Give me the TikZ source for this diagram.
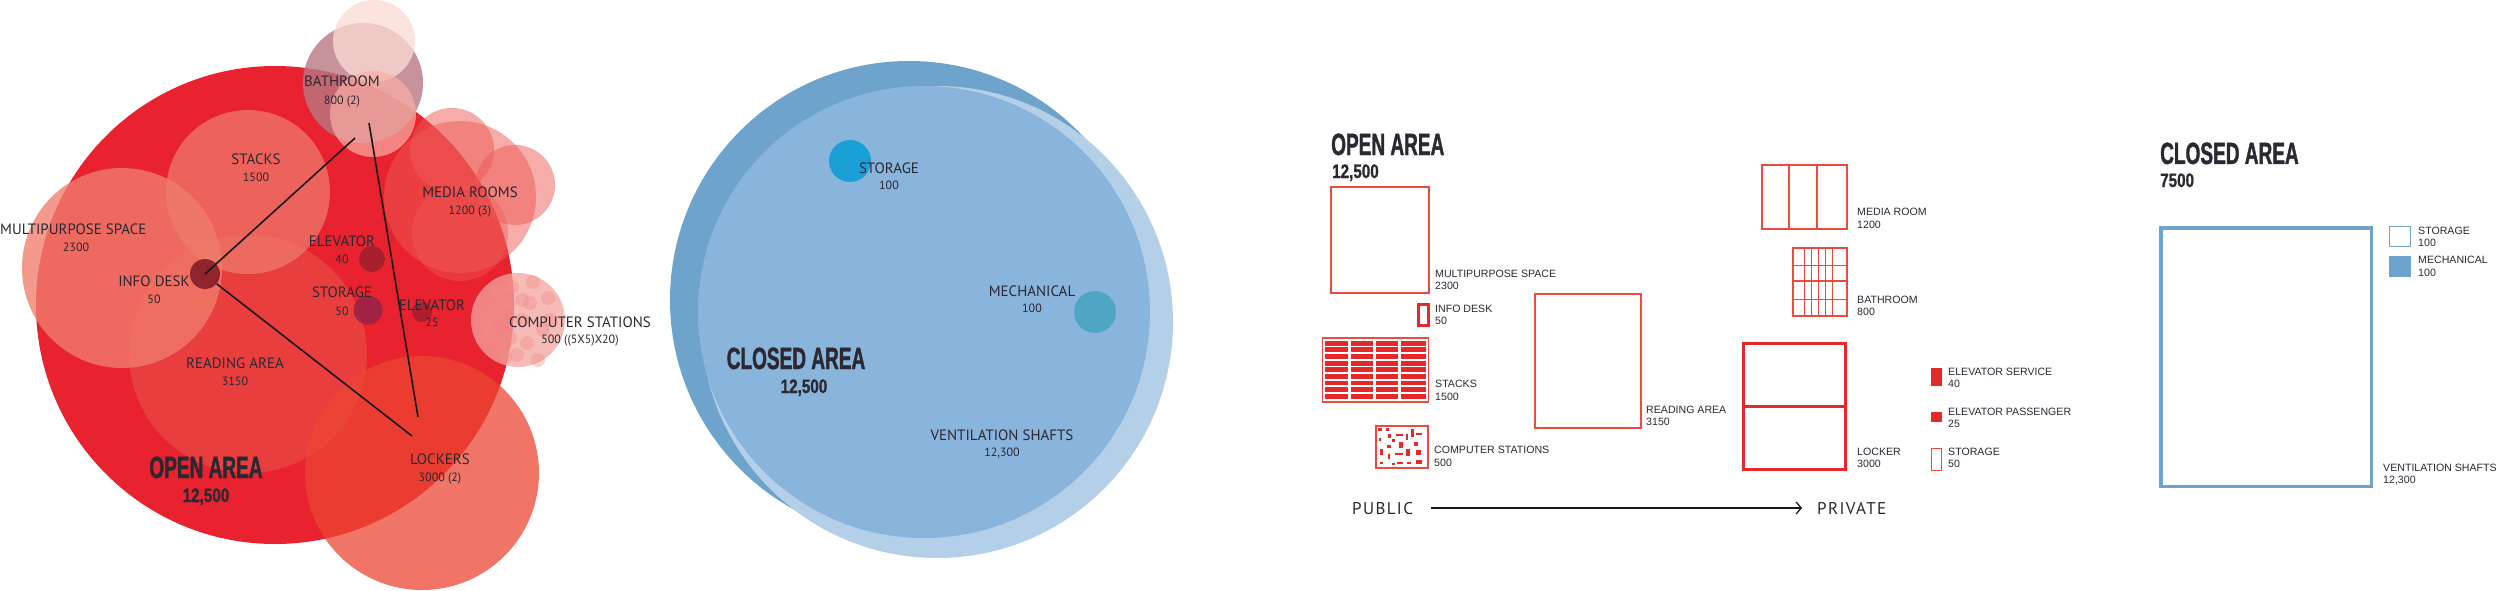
\documentclass[tikz,border=0pt]{standalone}
\usepackage{fontspec}
\setmainfont{Liberation Sans}
\newfontfamily\dinf{PT Sans}
\newfontfamily\arialf{Liberation Sans}
\newfontfamily\bebasf[FakeStretch=0.62,FakeBold=1.2]{Liberation Sans}
\newfontfamily\bebasnumf[FakeStretch=0.78,FakeBold=0.8]{Liberation Sans}
\newfontfamily\spacedf[LetterSpace=8]{PT Sans}
\usetikzlibrary{arrows.meta}
\definecolor{txt}{RGB}{43,40,50}
\definecolor{mainred}{RGB}{232,34,46}
\definecolor{salmon}{RGB}{240,126,109}
\definecolor{lockred}{RGB}{236,70,50}
\definecolor{readred}{RGB}{233,62,62}
\definecolor{mediared}{RGB}{238,90,85}
\definecolor{mauve}{RGB}{185,120,130}
\definecolor{pale}{RGB}{252,220,212}
\definecolor{lpink}{RGB}{248,175,165}
\definecolor{comppink}{RGB}{245,165,160}
\definecolor{dotpink}{RGB}{240,140,135}
\definecolor{deskdark}{RGB}{135,30,40}
\definecolor{elevdark}{RGB}{160,30,45}
\definecolor{stordark}{RGB}{155,35,70}
\definecolor{bluedark}{RGB}{110,163,203}
\definecolor{bluemid}{RGB}{137,180,219}
\definecolor{bluelight}{RGB}{180,207,232}
\definecolor{bluestor}{RGB}{26,160,214}
\definecolor{bluemech}{RGB}{78,166,196}
\definecolor{outred}{RGB}{236,75,60}
\definecolor{fillred}{RGB}{229,40,42}
\definecolor{boxblue}{RGB}{111,163,207}
\tikzset{
  lblL/.style={font=\dinf\fontsize{15}{15}\selectfont, text=txt, inner sep=0pt, text height=10.5pt, text depth=0pt},
  numL/.style={font=\dinf\fontsize{12}{12}\selectfont, text=txt, inner sep=0pt, text height=8.4pt, text depth=0pt},
  lblR/.style={font=\arialf\fontsize{10.6}{10.6}\selectfont, text=txt, inner sep=0pt, text height=7.6pt, text depth=0pt, anchor=west},
  ttl/.style={font=\bebasf\bfseries\fontsize{30.7}{30.7}\selectfont, text=txt, inner sep=0pt, text height=22pt, text depth=0pt},
  ttlnum/.style={font=\bebasnumf\bfseries\fontsize{19.5}{19.5}\selectfont, text=txt, inner sep=0pt, text height=14pt, text depth=0pt},
  spaced/.style={font=\spacedf\fontsize{17}{17}\selectfont, text=txt, inner sep=0pt, text height=12pt, text depth=0pt},
  outbox/.style={draw=outred, line width=1.3pt},
  thickbox/.style={draw=fillred, line width=3pt},
  connector/.style={draw=black!90, line width=1.6pt},
  dot/.style={circle, inner sep=0pt, draw=none},
}
\begin{document}
\begin{tikzpicture}[x=1pt,y=-1pt]
\path[use as bounding box, fill=white] (0,0) rectangle (2500,591);

% ===================== LEFT: OPEN AREA bubbles =====================
\fill[mainred] (275,305) circle[radius=239pt];
\fill[readred] (248,354) circle[radius=119pt];
\fill[lockred, opacity=0.74] (422,473) circle[radius=117pt];
\fill[salmon, opacity=0.78] (122,268) circle[radius=100pt];
\fill[salmon, opacity=0.7] (248,192) circle[radius=82pt];
% media rooms
\fill[mediared, opacity=0.5] (460,197) circle[radius=76pt];
\fill[mediared, opacity=0.5] (452,150) circle[radius=42pt];
\fill[mediared, opacity=0.5] (515,185) circle[radius=40pt];
\fill[mediared, opacity=0.4] (460,233) circle[radius=48pt];
% computer stations
\fill[comppink, opacity=0.75] (518,320) circle[radius=47pt];
\foreach \p in {(498,292),(512,287),(495,310),(508,303),(522,300),(490,335),(500,343),(510,338),
  (505,357),(517,355),(533,282),(548,298),(530,303),(550,320),(543,330),(538,360),(485,320),(522,320),(527,343)}
  \fill[dotpink, opacity=0.4] \p circle[radius=7pt];
% bathroom
\fill[mauve, opacity=0.8] (363,83) circle[radius=60pt];
\fill[pale, opacity=0.75] (374,41) circle[radius=41pt];
\fill[lpink, opacity=0.7] (373,114) circle[radius=43pt];
% small dark circles
\node[dot, fill=deskdark, opacity=0.92, minimum size=30pt] (deskC) at (205,274) {};
\node[dot, fill=elevdark, opacity=0.9, minimum size=26pt] (elevC) at (372,259) {};
\node[dot, fill=stordark, opacity=0.9, minimum size=29pt] (storC) at (368,310) {};
\node[dot, fill=elevdark, opacity=0.8, minimum size=20pt] (elevB) at (422,312) {};
% connectors
\coordinate (bathA) at (355,138);
\coordinate (bathB) at (369,123);
\coordinate (lockA) at (412,436);
\coordinate (lockB) at (418,417);
\draw[connector] (deskC.center) -- (bathA);
\draw[connector] (deskC.-40) -- (lockA);
\draw[connector] (bathB) -- (lockB);
% labels
\node[lblL] (bathL) at (342,81) {BATHROOM};
\node[numL] (bathN) at (342,100) {800 (2)};
\node[lblL] (stackL) at (256,159) {STACKS};
\node[numL] (stackN) at (256,177) {1500};
\node[lblL, anchor=west] (mpL) at (0,229) {MULTIPURPOSE SPACE};
\node[numL] (mpN) at (76,247) {2300};
\node[lblL] (mediaL) at (470,192) {MEDIA ROOMS};
\node[numL] (mediaN) at (470,210) {1200 (3)};
\node[lblL] (elevL) at (342,241) {ELEVATOR};
\node[numL] (elevN) at (342,259) {40};
\node[lblL] (deskL) at (154,281) {INFO DESK};
\node[numL] (deskN) at (154,299) {50};
\node[lblL] (storL) at (342,292) {STORAGE};
\node[numL] (storN) at (342,311) {50};
\node[lblL] (elev2L) at (432,305) {ELEVATOR};
\node[numL] (elev2N) at (432,322) {25};
\node[lblL] (compL) at (580,322) {COMPUTER STATIONS};
\node[numL] (compN) at (580,339) {500 ((5X5)X20)};
\node[lblL] (readL) at (235,363) {READING AREA};
\node[numL] (readN) at (235,381) {3150};
\node[lblL] (lockL) at (440,459) {LOCKERS};
\node[numL] (lockN) at (440,477) {3000 (2)};
\node[ttl] (openT) at (206,467) {OPEN AREA};
\node[ttlnum] (openN) at (206,495) {12,500};

% ===================== MIDDLE: CLOSED AREA bubbles =====================
\fill[bluedark] (909,300) circle[radius=239pt];
\fill[bluelight] (937,322) circle[radius=236pt];
\fill[bluemid] (924,312) circle[radius=226pt];
\node[dot, fill=bluestor, minimum size=42pt] (bstorC) at (850,161) {};
\node[dot, fill=bluemech, minimum size=42pt] (bmechC) at (1095,312) {};
\node[lblL] (bstorL) at (889,168) {STORAGE};
\node[numL] (bstorN) at (889,185) {100};
\node[lblL] (bmechL) at (1032,291) {MECHANICAL};
\node[numL] (bmechN) at (1032,308) {100};
\node[lblL] (ventL) at (1002,435) {VENTILATION SHAFTS};
\node[numL] (ventN) at (1002,452) {12,300};
\node[ttl] (closedT) at (796,358) {CLOSED AREA};
\node[ttlnum] (closedN) at (804,386) {12,500};

% ===================== RIGHT: OPEN AREA program =====================
\node[ttl, anchor=west] (openT2) at (1331,144) {OPEN AREA};
\node[ttlnum, anchor=west] (openN2) at (1332,171) {12,500};
% multipurpose
\draw[outbox] (1331,187) rectangle (1429,293);
\node[lblR] (mpR) at (1435,274) {MULTIPURPOSE SPACE};
\node[lblR] (mpRN) at (1435,286) {2300};
% info desk
\draw[thickbox] (1418,304) rectangle (1428,325);
\node[lblR] (deskR) at (1435,309) {INFO DESK};
\node[lblR] (deskRN) at (1435,321) {50};
% stacks
\foreach \r in {0,...,8} {
  \foreach \c/\w in {1325/22.5, 1350.5/22.5, 1375.5/22.5, 1400.5/25.5} {
    \fill[fillred] (\c, 340.8+\r*6.62) rectangle ++(\w, 4.9);
  }
}
\draw[outbox] (1322.5,338) rectangle (1428.5,402);
\node[lblR] (stackR) at (1435,384) {STACKS};
\node[lblR] (stackRN) at (1435,397) {1500};
% computer stations
\draw[outbox] (1376,426) rectangle (1428,468);
\foreach \x/\y/\w/\h in {1378.3/428.3/3.3/3, 1386/427.7/3.3/3, 1388.3/433.7/2.7/4.7, 1396/433.7/6.7/2.3,
  1406.3/434.3/1.7/5.3, 1411/429/2.7/8, 1415.7/433/6/2.3, 1378.7/437.7/2.7/3.3, 1387.3/445/4/2.7,
  1399.3/441.7/4/6.7, 1414.3/441.7/3.3/4.7, 1380/449.3/3.3/5.3, 1387.7/454/2/4.7, 1395.3/452.7/8/2.3,
  1406.3/449.3/3.3/6.7, 1416/450/4.7/5.3, 1380/461.5/3.3/2.7, 1391.7/462.5/3.3/2, 1397.3/461.5/5.3/2,
  1406.7/461.5/4.7/2, 1416/460/6/4, 1392/439/2.5/2.5}
  \fill[fillred] (\x,\y) rectangle ++(\w,\h);
\node[lblR] (compR) at (1434,450) {COMPUTER STATIONS};
\node[lblR] (compRN) at (1434,463) {500};
% reading area
\draw[outbox] (1535,294) rectangle (1641,428);
\node[lblR] (readR) at (1646,410) {READING AREA};
\node[lblR] (readRN) at (1646,422) {3150};
% media room
\draw[outbox] (1762,165) rectangle (1847,229);
\draw[outbox] (1789,165) -- (1789,229);
\draw[outbox] (1817,165) -- (1817,229);
\node[lblR] (mediaR) at (1857,212) {MEDIA ROOM};
\node[lblR] (mediaRN) at (1857,225) {1200};
% bathroom
\foreach \x in {1804,1811,1818.3,1825.7,1832.7}
  \draw[draw=outred, line width=0.7pt] (\x,248) -- (\x,316);
\foreach \y in {265,299}
  \draw[draw=outred, line width=0.7pt] (1793,\y) -- (1847,\y);
\draw[outbox] (1793,281) -- (1847,281);
\draw[outbox] (1793,248) rectangle (1847,316);
\node[lblR] (bathR) at (1857,300) {BATHROOM};
\node[lblR] (bathRN) at (1857,312) {800};
% locker
\draw[thickbox] (1743.5,343.5) rectangle (1845.5,469.5);
\draw[thickbox] (1743.5,406) -- (1845.5,406);
\node[lblR] (lockR) at (1857,452) {LOCKER};
\node[lblR] (lockRN) at (1857,464) {3000};
% elevators and storage
\fill[fillred] (1931,368) rectangle (1942,386);
\node[lblR] (elsR) at (1948,372) {ELEVATOR SERVICE};
\node[lblR] (elsRN) at (1948,384) {40};
\fill[fillred] (1931,412) rectangle (1942,422);
\node[lblR] (elpR) at (1948,412) {ELEVATOR PASSENGER};
\node[lblR] (elpRN) at (1948,424) {25};
\draw[draw=outred, line width=1.2pt] (1931.6,448.6) rectangle (1941.4,470.4);
\node[lblR] (storR) at (1948,452) {STORAGE};
\node[lblR] (storRN) at (1948,464) {50};
% public -> private
\node[spaced, anchor=west] (pub) at (1352,508) {PUBLIC};
\node[spaced, anchor=west] (priv) at (1817,508) {PRIVATE};
\draw[line width=1.3pt, draw=black!90, -{Straight Barb[length=5pt,width=12pt,line width=1.3pt]}]
  ([xshift=18pt]pub.east) -- ([xshift=-15pt]priv.west);

% ===================== FAR RIGHT: CLOSED AREA program =====================
\node[ttl, anchor=west] (closedT2) at (2160,153) {CLOSED AREA};
\node[ttlnum, anchor=west] (closedN2) at (2160,180) {7500};
\draw[draw=boxblue, line width=3.5pt] (2160.75,227.75) rectangle (2371.25,486.25);
\draw[draw=boxblue, line width=1.2pt, fill=white] (2389.6,226.6) rectangle (2410.4,246.4);
\node[lblR] (cstorR) at (2418,231) {STORAGE};
\node[lblR] (cstorRN) at (2418,243) {100};
\fill[boxblue] (2389,256) rectangle (2411,277);
\node[lblR] (cmechR) at (2418,260) {MECHANICAL};
\node[lblR] (cmechRN) at (2418,273) {100};
\node[lblR] (cventR) at (2383,468) {VENTILATION SHAFTS};
\node[lblR] (cventRN) at (2383,480) {12,300};
\end{tikzpicture}
\end{document}
